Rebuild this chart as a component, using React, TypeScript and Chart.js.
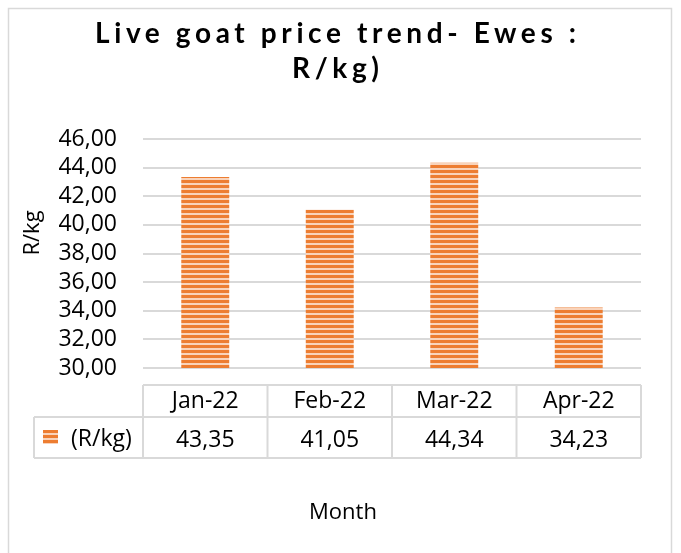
import React, { useEffect, useRef } from "react";
import { Chart, registerables } from "chart.js";

Chart.register(...registerables);

const categories = ["Jan-22", "Feb-22", "Mar-22", "Apr-22"];
const values = [43.35, 41.05, 44.34, 34.23];
const seriesName = "(R/kg)";
const titleLines = ["Live goat price trend- Ewes :", "R/kg)"];
const yAxisTitle = "R/kg";
const xAxisTitle = "Month";
const yMin = 30;
const yMax = 46;
const yStep = 2;

const fmt = (v: number) => Number(v).toFixed(2).replace(".", ",");

const ORANGE = "#ED7D31";
const LIGHT = "#F9D3BA";
const GRID = "#d9d9d9";
const FONT = "'Open Sans', 'Noto Sans', sans-serif";

function makePattern(ctx: CanvasRenderingContext2D) {
  const c = document.createElement("canvas");
  c.width = 8;
  c.height = 5;
  const p = c.getContext("2d")!;
  p.fillStyle = LIGHT;
  p.fillRect(0, 0, 8, 5);
  p.fillStyle = ORANGE;
  p.fillRect(0, 0, 8, 3);
  return ctx.createPattern(c, "repeat")!;
}

export default function App() {
  const ref = useRef<HTMLCanvasElement | null>(null);

  useEffect(() => {
    const canvas = ref.current!;
    const ctx0 = canvas.getContext("2d")!;
    const pattern = makePattern(ctx0);

    const overlay = {
      id: "overlay",
      beforeDraw(chart: any) {
        const ctx = chart.ctx;
        ctx.save();
        ctx.fillStyle = "#fff";
        ctx.fillRect(0, 0, chart.width, chart.height);
        ctx.strokeStyle = GRID;
        ctx.lineWidth = 1.5;
        ctx.strokeRect(8.5, 8.5, 663, 560);
        ctx.restore();
      },
      afterDraw(chart: any) {
        const ctx = chart.ctx as CanvasRenderingContext2D;
        const x = chart.scales.x;
        ctx.save();

        // Title with letter spacing
        ctx.fillStyle = "#000";
        ctx.font = "bold 28px Lato, 'Open Sans', sans-serif";
        ctx.textAlign = "left";
        ctx.textBaseline = "alphabetic";
        (ctx as any).letterSpacing = "0px";
        const w0 = ctx.measureText(titleLines[0]).width;
        const spacing = (481 - w0) / (titleLines[0].length - 1);
        (ctx as any).letterSpacing = spacing + "px";
        const baselines = [43, 78];
        titleLines.forEach((line, i) => {
          const w = ctx.measureText(line).width - spacing;
          ctx.fillText(line, 335.5 - w / 2, baselines[i]);
        });
        (ctx as any).letterSpacing = "0px";

        // Y axis title
        ctx.font = "22px " + FONT;
        ctx.save();
        ctx.translate(33, 233);
        ctx.rotate(-Math.PI / 2);
        ctx.textAlign = "center";
        ctx.textBaseline = "middle";
        ctx.fillText(yAxisTitle, 0, 0);
        ctx.restore();

        // X axis title
        ctx.textAlign = "center";
        ctx.textBaseline = "alphabetic";
        ctx.fillText(xAxisTitle, 343, 519);

        // Data table
        const half = (x.getPixelForValue(1) - x.getPixelForValue(0)) / 2;
        const left = x.getPixelForValue(0) - half;
        const right = x.getPixelForValue(categories.length - 1) + half;
        const top = 385;
        const mid = 417;
        const bottom = 458;
        const legendLeft = 34;
        ctx.strokeStyle = GRID;
        ctx.lineWidth = 2;
        ctx.beginPath();
        ctx.moveTo(left, top);
        ctx.lineTo(right, top);
        ctx.moveTo(legendLeft, mid);
        ctx.lineTo(right, mid);
        ctx.moveTo(legendLeft, bottom);
        ctx.lineTo(right, bottom);
        ctx.moveTo(legendLeft, mid);
        ctx.lineTo(legendLeft, bottom);
        for (let i = 0; i <= categories.length; i++) {
          const px = left + i * 2 * half;
          ctx.moveTo(px, top);
          ctx.lineTo(px, bottom);
        }
        ctx.stroke();

        ctx.fillStyle = "#000";
        ctx.font = "23px " + FONT;
        ctx.textAlign = "center";
        ctx.textBaseline = "middle";
        categories.forEach((c, i) => {
          const cx = x.getPixelForValue(i);
          ctx.fillText(c, cx, 401);
          ctx.fillText(fmt(values[i]), cx, 440);
        });

        // legend key
        ctx.fillStyle = pattern;
        ctx.fillRect(43, 430, 15, 14);
        ctx.fillStyle = "#000";
        ctx.textAlign = "left";
        ctx.fillText(seriesName, 71, 439);

        ctx.restore();
      },
    };

    const chart = new Chart(canvas, {
      type: "bar",
      data: {
        labels: categories,
        datasets: [
          {
            label: seriesName,
            data: values,
            backgroundColor: pattern,
            borderWidth: 0,
            barPercentage: 0.385,
            categoryPercentage: 1,
          },
        ],
      },
      options: {
        responsive: false,
        animation: false,
        layout: { padding: { left: 0, top: 139, right: 40, bottom: 185 } },
        plugins: {
          legend: { display: false },
          title: { display: false },
          tooltip: { enabled: false },
        },
        scales: {
          x: { display: false, offset: true },
          y: {
            min: yMin,
            max: yMax,
            ticks: {
              stepSize: yStep,
              autoSkip: false,
              callback: (v: any) => fmt(v),
              color: "#000",
              font: { family: FONT, size: 23 },
              padding: 26,
            },
            grid: { color: GRID, lineWidth: 2, drawTicks: false },
            border: { display: false },
            afterFit: (s: any) => {
              s.width = 143;
            },
          },
        },
      },
      plugins: [overlay],
    });

    return () => chart.destroy();
  }, []);

  return (
    <canvas
      ref={ref}
      width={681}
      height={553}
      style={{ position: "absolute", left: 0, top: 0, width: 681, height: 553 }}
    />
  );
}
